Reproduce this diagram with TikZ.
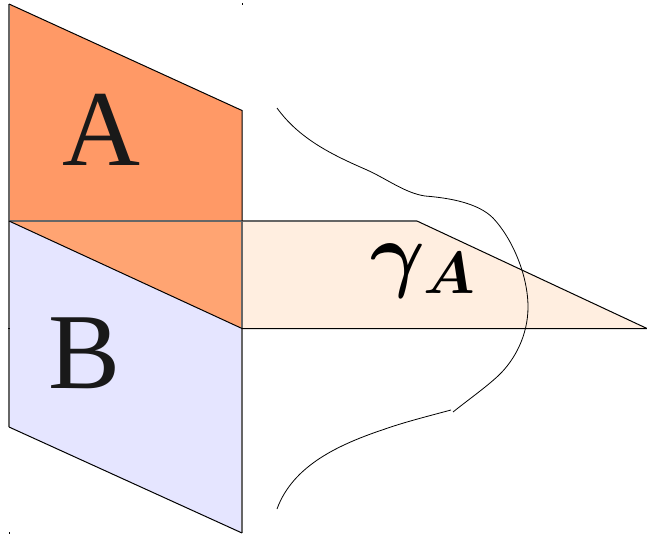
\documentclass[tikz,border=0pt]{standalone}
\usepackage{fontspec}
\usepackage{amsmath}
\usepackage{graphicx}
\setmainfont{Liberation Serif}
\definecolor{orangeA}{HTML}{FF9966}
\definecolor{orangeB}{HTML}{FFA472}
\definecolor{blueB}{HTML}{E5E5FF}
\definecolor{peach}{HTML}{FFEEE0}
\definecolor{inkc}{HTML}{191919}
\tikzset{
  edgeline/.style={draw=black,line width=0.75pt,line join=miter},
  softline/.style={draw=black!60,line width=0.8pt},
  curveline/.style={draw=black,line width=0.6pt},
  biglabel/.style={font=\fontsize{81}{90}\selectfont,text=inkc,inner sep=0pt,anchor=base},
  mathlabel/.style={inner sep=0pt,anchor=center},
  speck/.style={draw=black,line width=0.7pt}
}
\begin{document}
\begin{tikzpicture}[x=0.75pt,y=-0.75pt]
\useasboundingbox (0,0) rectangle (647,535);
% fills
\fill[blueB] (9,221) -- (242,328.5) -- (242,533) -- (9,427) -- cycle;
\fill[peach] (242,221) -- (417,221) -- (647,328.5) -- (242,328.5) -- cycle;
\fill[orangeA] (9,4) -- (242,110.5) -- (242,221) -- (9,221) -- cycle;
\fill[orangeB] (9,221) -- (242,221) -- (242,328.5) -- cycle;
% outlines
\draw[softline] (9,4) -- (9,427);
\draw[softline] (242,221) -- (242,533);
\draw[softline] (9,221) -- (417,221);
\draw[edgeline] (9,4) -- (242,110.5) -- (242,221);
\draw[edgeline] (9,221) -- (242,328.5) -- (647,328.5) -- (417,221);
\draw[edgeline] (9,427) -- (242,533);
\draw[speck] (242,3) -- (242,5);
\draw[speck] (8,328) -- (10,328);
\draw[speck] (9,532) -- (9,534);
% curve
\draw[curveline] (277,108) .. controls (300,140) and (335,156) .. (367,170)
  .. controls (387,179) and (405,193) .. (425,196)
  .. controls (450,198) and (478,203) .. (493,218)
  .. controls (512,238) and (528,275) .. (528,307)
  .. controls (528,335) and (515,360) .. (498,376)
  .. controls (485,388) and (468,400) .. (453,412);
\draw[curveline] (451,410) .. controls (425,417) and (405,422) .. (385,429)
  .. controls (340,444) and (293,465) .. (277,509);
% labels
\node[biglabel] (labelA) at (101,166) {A};
\node[biglabel] (labelB) at (85,388) {B};
\node[mathlabel] (labelG) at (397.5,271) {\scalebox{6.3}{$\boldsymbol{\gamma}$}};
\node[mathlabel] (labelS) at (449,273.5) {\scalebox{4.45}{$\boldsymbol{A}$}};
\end{tikzpicture}
\end{document}
